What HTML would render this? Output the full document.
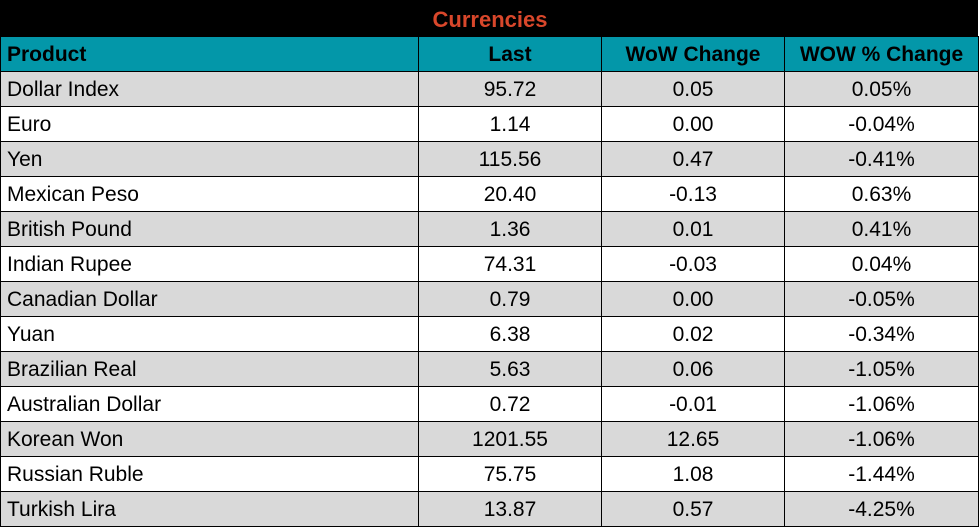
<!DOCTYPE html>
<html><head><style>
body{margin:0;width:980px;height:527px;background:#fff;overflow:hidden;font-family:"Liberation Sans",sans-serif;}
.t{position:absolute;left:0;top:0;width:978px;height:36px;background:#000;color:#d9472b;font-weight:bold;font-size:22px;text-align:center;line-height:40px;}
.t span{position:relative;left:1px}
table{position:absolute;left:0;top:36px;border-collapse:collapse;table-layout:fixed;width:978px;}
td{border:1px solid #000;height:32px;padding:2px 0 0 0;font-size:21px;text-align:center;color:#000;line-height:32px;white-space:nowrap;}
td:first-child{text-align:left;padding-left:6px;}
tr.h td{background:#0397a9;font-weight:bold;}
tr:nth-child(even) td{background:#d9d9d9;}
tr:nth-child(odd):not(.h) td{background:#fff;}
</style></head><body>
<div class="t"><span>Currencies</span></div>
<table>
<colgroup><col style="width:418px"><col style="width:183px"><col style="width:183px"><col style="width:194px"></colgroup>
<tr class="h"><td>Product</td><td>Last</td><td>WoW Change</td><td>WOW % Change</td></tr>
<tr><td>Dollar Index</td><td>95.72</td><td>0.05</td><td>0.05%</td></tr>
<tr><td>Euro</td><td>1.14</td><td>0.00</td><td>-0.04%</td></tr>
<tr><td>Yen</td><td>115.56</td><td>0.47</td><td>-0.41%</td></tr>
<tr><td>Mexican Peso</td><td>20.40</td><td>-0.13</td><td>0.63%</td></tr>
<tr><td>British Pound</td><td>1.36</td><td>0.01</td><td>0.41%</td></tr>
<tr><td>Indian Rupee</td><td>74.31</td><td>-0.03</td><td>0.04%</td></tr>
<tr><td>Canadian Dollar</td><td>0.79</td><td>0.00</td><td>-0.05%</td></tr>
<tr><td>Yuan</td><td>6.38</td><td>0.02</td><td>-0.34%</td></tr>
<tr><td>Brazilian Real</td><td>5.63</td><td>0.06</td><td>-1.05%</td></tr>
<tr><td>Australian Dollar</td><td>0.72</td><td>-0.01</td><td>-1.06%</td></tr>
<tr><td>Korean Won</td><td>1201.55</td><td>12.65</td><td>-1.06%</td></tr>
<tr><td>Russian Ruble</td><td>75.75</td><td>1.08</td><td>-1.44%</td></tr>
<tr><td>Turkish Lira</td><td>13.87</td><td>0.57</td><td>-4.25%</td></tr>
</table>
</body></html>
